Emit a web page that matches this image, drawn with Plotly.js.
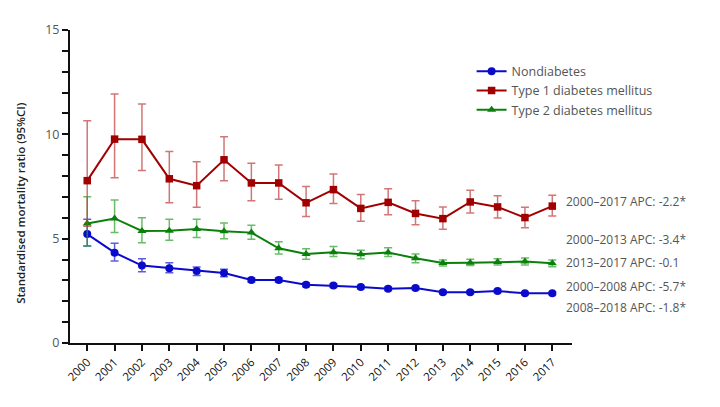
<!DOCTYPE html>
<html>
<head>
<meta charset="utf-8">
<script src="https://cdn.plot.ly/plotly-3.0.1.min.js"></script>
<style>html,body{margin:0;padding:0;background:#fff}#chart{width:720px;height:407px}</style>
</head>
<body>
<div id="chart"></div>
<script>
const years = [2000,2001,2002,2003,2004,2005,2006,2007,2008,2009,2010,2011,2012,2013,2014,2015,2016,2017];

const nondiabetes      = [5.22,4.33,3.71,3.58,3.45,3.35,3.02,3.02,2.79,2.75,2.68,2.60,2.63,2.43,2.43,2.49,2.38,2.38];
const nondiabetesLower = [4.65,3.93,3.42,3.37,3.24,3.18,2.92,2.92,2.70,2.66,2.60,2.52,2.55,2.36,2.36,2.42,2.31,2.31];
const nondiabetesUpper = [5.93,4.78,4.04,3.85,3.64,3.53,3.12,3.12,2.88,2.84,2.76,2.68,2.71,2.50,2.50,2.56,2.45,2.45];

const type1      = [7.78,9.77,9.76,7.87,7.54,8.78,7.67,7.67,6.72,7.35,6.45,6.74,6.21,5.96,6.76,6.52,6.01,6.56];
const type1Lower = [5.60,7.92,8.27,6.72,6.50,7.78,6.82,6.89,6.06,6.69,5.83,6.15,5.67,5.45,6.23,5.99,5.52,6.09];
const type1Upper = [10.65,11.93,11.45,9.18,8.69,9.89,8.62,8.53,7.50,8.10,7.12,7.39,6.82,6.52,7.32,7.06,6.50,7.08];

const type2      = [5.73,5.97,5.37,5.38,5.46,5.35,5.29,4.54,4.27,4.35,4.25,4.34,4.06,3.83,3.85,3.88,3.90,3.82];
const type2Lower = [4.65,5.29,4.81,4.92,5.05,5.00,4.97,4.26,4.01,4.14,4.04,4.14,3.85,3.69,3.72,3.74,3.74,3.66];
const type2Upper = [7.01,6.85,6.00,5.93,5.93,5.75,5.64,4.85,4.52,4.62,4.44,4.57,4.26,3.98,4.01,4.04,4.07,3.98];

const seriesNames = ["Nondiabetes","Type 1 diabetes mellitus","Type 2 diabetes mellitus"];

const apcLabels = ["2000\u20132017 APC: -2.2*","2000\u20132013 APC: -3.4*","2013\u20132017 APC: -0.1","2000\u20132008 APC: -5.7*","2008\u20132018 APC: -1.8*"];
const apcY = [6.80,4.94,3.88,2.73,1.72];

const yTitle = 'Standardised mortality ratio (95%CI)';

function diff(a,b){return a.map((v,i)=>v-b[i]);}

const FONT = "'Open Sans', Lato, sans-serif";

function mk(name, y, lo, hi, color, ebColor, symbol, size){
  return {
    x: years, y: y, name: name, type: 'scatter', mode: 'lines+markers',
    line: {color: color, width: 2},
    marker: {color: color, symbol: symbol, size: size},
    error_y: {type:'data', symmetric:false, array: diff(hi,y), arrayminus: diff(y,lo),
              color: ebColor, thickness: 1.5, width: 4}
  };
}

const traces = [
  mk(seriesNames[0], nondiabetes, nondiabetesLower, nondiabetesUpper, '#0a0acc', 'rgba(40,40,210,0.75)', 'circle', 8),
  mk(seriesNames[2], type2, type2Lower, type2Upper, '#0a800a', 'rgba(40,160,40,0.7)', 'triangle-up', 8),
  mk(seriesNames[1], type1, type1Lower, type1Upper, '#a00000', 'rgba(190,60,60,0.7)', 'square', 7.5)
];
traces[0].legendrank = 1; traces[2].legendrank = 2; traces[1].legendrank = 3;

const annotations = apcLabels.map((t,i)=>({
  text: t, xref:'paper', yref:'y', x: 0.984, y: apcY[i], xanchor:'left', yanchor:'middle',
  showarrow:false, font:{family:FONT, size:12, color:'#555'}
}));
annotations.push({
  text: yTitle, xref:'paper', yref:'paper', x: -0.1, xanchor:'center', y: (343-203)/313, yanchor:'middle',
  textangle:-90, showarrow:false, font:{family:FONT, size:11.5, color:'#222', weight:600}
});

const layout = {
  width: 720, height: 407,
  margin: {l:70, r:148, t:30, b:64},
  paper_bgcolor:'#fff', plot_bgcolor:'#fff',
  font: {family: FONT, color:'#333'},
  showlegend: true,
  legend: {x: 0.8, y: 0.915, xanchor:'left', yanchor:'top', font:{family:FONT, size:12.5, color:'#555'},
           bgcolor:'rgba(0,0,0,0)', itemwidth:30, traceorder:'normal', tracegroupgap:0},
  xaxis: {
    range: [1999.37, 2017.72], tickvals: years, ticktext: years.map(String),
    tickangle: -45, ticks:'outside', ticklen:6, tickwidth:2, tickcolor:'#111',
    showline:true, linecolor:'#111', linewidth:2, showgrid:false, zeroline:false,
    tickfont:{family:FONT, size:11.5, color:'#111'}
  },
  yaxis: {
    range:[0,15], dtick:5, tick0:0, ticks:'outside', ticklen:6, tickwidth:2, tickcolor:'#111',
    minor:{dtick:1, ticks:'outside', ticklen:6, tickwidth:2, tickcolor:'#111', showgrid:false},
    showline:true, linecolor:'#111', linewidth:2, showgrid:false, zeroline:false,
    tickfont:{family:FONT, size:12.5, color:'#555'}
  },
  annotations: annotations
};

Plotly.newPlot('chart', traces, layout, {displayModeBar:false, staticPlot:true});
</script>
</body>
</html>
